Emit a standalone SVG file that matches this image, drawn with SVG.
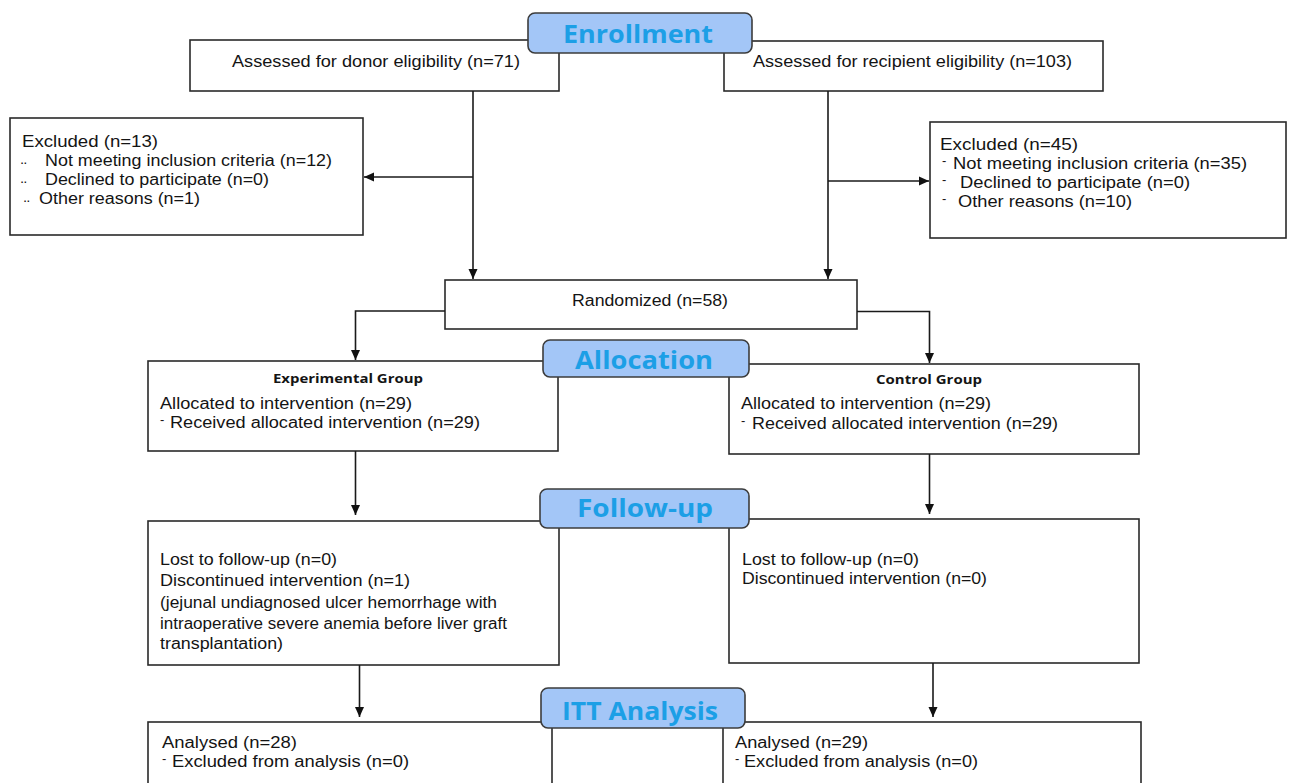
<svg xmlns="http://www.w3.org/2000/svg" width="1290" height="783" viewBox="0 0 1290 783">
<defs>
<style>
.box{fill:#fff;stroke:#2a2a2a;stroke-width:1.6}
.hdr{fill:#a3c6f7;stroke:#3c3c3c;stroke-width:1.6}
.ht{font-family:"Open Sans","Liberation Sans",sans-serif;font-weight:700;font-size:25px;fill:#1c9fe6}
.t{font-family:"Liberation Sans",Arial,sans-serif;font-size:16px;fill:#141414}
.b{font-family:"Open Sans","Liberation Sans",sans-serif;font-weight:700;font-size:13px;fill:#141414}
.bul{font-family:"Liberation Sans",Arial,sans-serif;font-size:13px;fill:#141414}
.dia{font-family:"Liberation Sans",Arial,sans-serif;font-size:17px;fill:#141414}
.c{fill:none;stroke:#1a1a1a;stroke-width:1.6}
</style>
<marker id="ah" markerUnits="userSpaceOnUse" markerWidth="10" markerHeight="10" refX="10" refY="5" orient="auto">
<path d="M0,0.5 L10,5 L0,9.5 z" fill="#111"/>
</marker>
</defs>
<rect width="1290" height="783" fill="#fff"/>

<g id="donor">
<rect class="box" x="190" y="40" width="369" height="51"/>
<text class="t" x="232" y="67" textLength="288" lengthAdjust="spacingAndGlyphs">Assessed for donor eligibility (n=71)</text>
</g>
<g id="recipient">
<rect class="box" x="724" y="41" width="379" height="50"/>
<text class="t" x="753" y="67" textLength="319" lengthAdjust="spacingAndGlyphs">Assessed for recipient eligibility (n=103)</text>
</g>
<g id="excluded-donor">
<rect class="box" x="10" y="118" width="353" height="117"/>
<text class="t" x="22" y="147" textLength="136" lengthAdjust="spacingAndGlyphs">Excluded  (n=13)</text>
<text class="dia" x="21" y="174">¨</text>
<text class="t" x="45" y="166" textLength="287" lengthAdjust="spacingAndGlyphs">Not meeting inclusion criteria (n=12)</text>
<text class="dia" x="21" y="193">¨</text>
<text class="t" x="45" y="185" textLength="224" lengthAdjust="spacingAndGlyphs">Declined to participate (n=0)</text>
<text class="dia" x="24" y="212">¨</text>
<text class="t" x="39" y="204" textLength="161" lengthAdjust="spacingAndGlyphs">Other reasons (n=1)</text>
</g>
<g id="excluded-recipient">
<rect class="box" x="930" y="122" width="356" height="116"/>
<text class="t" x="940" y="150" textLength="138" lengthAdjust="spacingAndGlyphs">Excluded  (n=45)</text>
<text class="bul" x="942" y="165">-</text>
<text class="t" x="953" y="169" textLength="294" lengthAdjust="spacingAndGlyphs">Not meeting inclusion criteria (n=35)</text>
<text class="bul" x="942" y="184">-</text>
<text class="t" x="960" y="188" textLength="230" lengthAdjust="spacingAndGlyphs">Declined to participate (n=0)</text>
<text class="bul" x="942" y="203">-</text>
<text class="t" x="958" y="207" textLength="174" lengthAdjust="spacingAndGlyphs">Other reasons (n=10)</text>
</g>
<g id="randomized">
<rect class="box" x="445" y="280" width="412" height="49"/>
<text class="t" x="572" y="306" textLength="156" lengthAdjust="spacingAndGlyphs">Randomized  (n=58)</text>
</g>
<g id="experimental-allocation">
<rect class="box" x="148" y="361" width="410" height="90"/>
<text class="b" x="273" y="383" textLength="150" lengthAdjust="spacingAndGlyphs">Experimental Group</text>
<text class="t" x="160" y="409" textLength="252" lengthAdjust="spacingAndGlyphs">Allocated to intervention  (n=29)</text>
<text class="bul" x="160" y="424">-</text>
<text class="t" x="170" y="428" textLength="310" lengthAdjust="spacingAndGlyphs">Received  allocated  intervention  (n=29)</text>
</g>
<g id="control-allocation">
<rect class="box" x="729" y="364" width="410" height="90"/>
<text class="b" x="876" y="384" textLength="106" lengthAdjust="spacingAndGlyphs">Control Group</text>
<text class="t" x="741" y="409" textLength="250" lengthAdjust="spacingAndGlyphs">Allocated to intervention  (n=29)</text>
<text class="bul" x="741" y="425">-</text>
<text class="t" x="752" y="429" textLength="306" lengthAdjust="spacingAndGlyphs">Received  allocated  intervention  (n=29)</text>
</g>
<g id="experimental-followup">
<rect class="box" x="148" y="521" width="411" height="144"/>
<text class="t" x="160" y="565" textLength="177" lengthAdjust="spacingAndGlyphs">Lost to follow-up  (n=0)</text>
<text class="t" x="160" y="586" textLength="250" lengthAdjust="spacingAndGlyphs">Discontinued  intervention  (n=1)</text>
<text class="t" x="160" y="608" textLength="337" lengthAdjust="spacingAndGlyphs">(jejunal  undiagnosed ulcer hemorrhage with</text>
<text class="t" x="160" y="629" textLength="347" lengthAdjust="spacingAndGlyphs">intraoperative severe anemia  before liver graft</text>
<text class="t" x="160" y="649" textLength="123" lengthAdjust="spacingAndGlyphs">transplantation)</text>
</g>
<g id="control-followup">
<rect class="box" x="729" y="519" width="410" height="144"/>
<text class="t" x="742" y="565" textLength="177" lengthAdjust="spacingAndGlyphs">Lost to follow-up  (n=0)</text>
<text class="t" x="742" y="584" textLength="245" lengthAdjust="spacingAndGlyphs">Discontinued  intervention (n=0)</text>
</g>
<g id="experimental-analysis">
<rect class="box" x="148" y="722" width="404" height="80"/>
<text class="t" x="162" y="748" textLength="135" lengthAdjust="spacingAndGlyphs">Analysed  (n=28)</text>
<text class="bul" x="162" y="763">-</text>
<text class="t" x="172" y="767" textLength="237" lengthAdjust="spacingAndGlyphs">Excluded from analysis  (n=0)</text>
</g>
<g id="control-analysis">
<rect class="box" x="723" y="722" width="418" height="80"/>
<text class="t" x="735" y="748" textLength="133" lengthAdjust="spacingAndGlyphs">Analysed  (n=29)</text>
<text class="bul" x="735" y="763">-</text>
<text class="t" x="744" y="767" textLength="234" lengthAdjust="spacingAndGlyphs">Excluded from analysis (n=0)</text>
</g>

<g id="connectors">
<path class="c" d="M473,91 V279" marker-end="url(#ah)"/>
<path class="c" d="M473,177 H364" marker-end="url(#ah)"/>
<path class="c" d="M828,91 V279" marker-end="url(#ah)"/>
<path class="c" d="M828,181 H929" marker-end="url(#ah)"/>
<path class="c" d="M445,311 H355.5 V360" marker-end="url(#ah)"/>
<path class="c" d="M857,311.5 H929.5 V363" marker-end="url(#ah)"/>
<path class="c" d="M355.5,451 V515" marker-end="url(#ah)"/>
<path class="c" d="M929.5,454 V514" marker-end="url(#ah)"/>
<path class="c" d="M359.5,665 V717" marker-end="url(#ah)"/>
<path class="c" d="M933,663 V717" marker-end="url(#ah)"/>
</g>

<g id="hdr-enrollment">
<rect class="hdr" x="528" y="13" width="224" height="40" rx="7"/>
<text class="ht" x="563" y="43" textLength="150" lengthAdjust="spacingAndGlyphs">Enrollment</text>
</g>
<g id="hdr-allocation">
<rect class="hdr" x="543" y="340" width="206" height="37" rx="7"/>
<text class="ht" x="575" y="369" textLength="138" lengthAdjust="spacingAndGlyphs">Allocation</text>
</g>
<g id="hdr-followup">
<rect class="hdr" x="540" y="489" width="209" height="39" rx="7"/>
<text class="ht" x="577" y="517" textLength="136" lengthAdjust="spacingAndGlyphs">Follow-up</text>
</g>
<g id="hdr-itt">
<rect class="hdr" x="541" y="688" width="204" height="40" rx="7"/>
<text class="ht" x="562" y="720" textLength="156" lengthAdjust="spacingAndGlyphs">ITT Analysis</text>
</g>
</svg>
